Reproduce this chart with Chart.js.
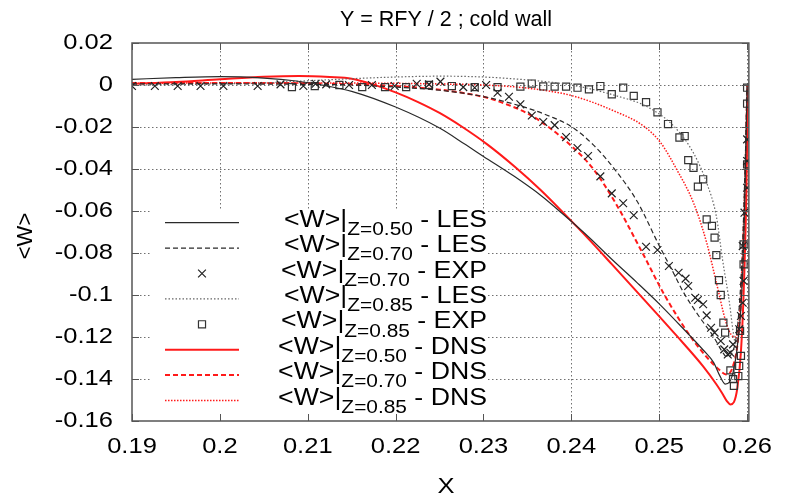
<!DOCTYPE html>
<html>
<head>
<meta charset="utf-8">
<script src="https://cdn.jsdelivr.net/npm/chart.js@4/dist/chart.umd.min.js"></script>
<style>
  html, body { margin: 0; padding: 0; background: #fff; }
  #wrap { width: 785px; height: 496px; }
</style>
</head>
<body>
<div id="wrap"><canvas id="chart" width="785" height="496"></canvas></div>
<script>
// Axis ticks
const xTickValues = [0.19, 0.20, 0.21, 0.22, 0.23, 0.24, 0.25, 0.26];
const xTickLabels = ['0.19', '0.2', '0.21', '0.22', '0.23', '0.24', '0.25', '0.26'];
const yTickValues = [0.02, 0, -0.02, -0.04, -0.06, -0.08, -0.10, -0.12, -0.14, -0.16];
const yTickLabels = ['0.02', '0', '-0.02', '-0.04', '-0.06', '-0.08', '-0.1', '-0.12', '-0.14', '-0.16'];

// Legend pieces: plane Z and source of each series
const zLevels = ['0.50', '0.70', '0.70', '0.85', '0.85', '0.50', '0.70', '0.85'];
const sources = ['LES', 'LES', 'EXP', 'LES', 'EXP', 'DNS', 'DNS', 'DNS'];

// <W> at Z = 0.50, LES
const les050X = [0.190, 0.195, 0.200, 0.205, 0.2087, 0.212, 0.215, 0.220, 0.225, 0.228, 0.230, 0.2335, 0.2365, 0.2391, 0.242, 0.2446, 0.2475, 0.250, 0.2525, 0.2550, 0.2562, 0.2569, 0.2575, 0.2580, 0.2585, 0.2589, 0.2593, 0.2596, 0.2598, 0.2600];
const les050Y = [0.0027, 0.0035, 0.0040, 0.0033, 0.0019, -0.0003, -0.0030, -0.0105, -0.0205, -0.0285, -0.0340, -0.0435, -0.0525, -0.0617, -0.0725, -0.0830, -0.0942, -0.1042, -0.1150, -0.1262, -0.1322, -0.1385, -0.1424, -0.1415, -0.1350, -0.1240, -0.1060, -0.0780, -0.0420, -0.0010];

// <W> at Z = 0.70, LES
const les070X = [0.190, 0.200, 0.210, 0.215, 0.220, 0.225, 0.230, 0.2325, 0.235, 0.2375, 0.240, 0.2425, 0.245, 0.2475, 0.250, 0.2515, 0.2528, 0.2545, 0.2562, 0.2571, 0.2577, 0.2583, 0.2588, 0.2592, 0.2595, 0.2598, 0.2600];
const les070Y = [0.0005, 0.0005, 0.0003, 0.0000, -0.0010, -0.0025, -0.0055, -0.0080, -0.0110, -0.0148, -0.0198, -0.0285, -0.0405, -0.0555, -0.0765, -0.0885, -0.0990, -0.1100, -0.1200, -0.1265, -0.1295, -0.1275, -0.1190, -0.1000, -0.0750, -0.0350, 0.0000];

// <W> at Z = 0.70, measurements
const exp070X = [0.1900, 0.1926, 0.1952, 0.1978, 0.2004, 0.2043, 0.2069, 0.2095, 0.2109, 0.2121, 0.2147, 0.2173, 0.2199, 0.2224, 0.2238, 0.2251, 0.2277, 0.2290, 0.2303, 0.2316, 0.2329, 0.2342, 0.2355, 0.2368, 0.2381, 0.2394, 0.2407, 0.2419, 0.2433, 0.2446, 0.2459, 0.2471, 0.2485, 0.2498, 0.2511, 0.2522, 0.2530, 0.2533, 0.2541, 0.2544, 0.2550, 0.2554, 0.2559, 0.2563, 0.2570, 0.2574, 0.2578, 0.2581, 0.2584, 0.2591, 0.2593, 0.2595, 0.2596, 0.2595, 0.2597, 0.2600, 0.2600, 0.2600];
const exp070Y = [-0.0005, -0.0005, -0.0005, -0.0005, -0.0005, -0.0005, 0.0003, -0.0005, 0.0006, 0.0003, 0.0000, 0.0000, -0.0005, 0.0006, 0.0003, 0.0016, -0.0010, -0.0013, 0.0000, -0.0037, -0.0056, -0.0092, -0.0145, -0.0176, -0.0191, -0.0248, -0.0300, -0.0338, -0.0435, -0.0516, -0.0563, -0.0620, -0.0770, -0.0786, -0.0862, -0.0894, -0.0922, -0.0957, -0.1013, -0.1024, -0.1044, -0.1097, -0.1156, -0.1179, -0.1219, -0.1259, -0.1283, -0.1275, -0.1235, -0.1163, -0.1100, -0.1037, -0.0933, -0.0767, -0.0608, -0.0489, -0.0362, -0.0259];

// <W> at Z = 0.85, LES
const les085X = [0.190, 0.200, 0.205, 0.210, 0.215, 0.220, 0.225, 0.230, 0.235, 0.240, 0.245, 0.2487, 0.2517, 0.2539, 0.2554, 0.2565, 0.2572, 0.2580, 0.2584, 0.2587, 0.2590, 0.2593, 0.2596, 0.2598, 0.2600];
const les085Y = [0.0000, 0.0005, 0.0010, 0.0020, 0.0030, 0.0038, 0.0042, 0.0038, 0.0024, 0.0000, -0.0050, -0.0105, -0.0198, -0.0324, -0.0466, -0.0625, -0.0830, -0.1040, -0.1170, -0.1235, -0.1210, -0.1020, -0.0660, -0.0350, 0.0000];

// <W> at Z = 0.85, measurements
const exp085X = [0.2082, 0.2108, 0.2136, 0.2162, 0.2188, 0.2212, 0.2238, 0.2264, 0.2290, 0.2316, 0.2342, 0.2355, 0.2368, 0.2381, 0.2394, 0.2407, 0.2420, 0.2433, 0.2446, 0.2459, 0.2471, 0.2485, 0.2498, 0.2510, 0.2523, 0.2529, 0.2533, 0.2539, 0.2544, 0.2550, 0.2554, 0.2560, 0.2563, 0.2565, 0.2568, 0.2570, 0.2573, 0.2575, 0.2581, 0.2584, 0.2585, 0.2590, 0.2591, 0.2593, 0.2592, 0.2596, 0.2596, 0.2600, 0.2600, 0.2600];
const exp085Y = [-0.0010, -0.0005, 0.0000, -0.0010, -0.0010, -0.0010, 0.0000, -0.0005, -0.0010, -0.0010, -0.0008, 0.0007, -0.0007, -0.0008, -0.0008, -0.0013, -0.0021, -0.0005, -0.0044, -0.0013, -0.0052, -0.0082, -0.0130, -0.0186, -0.0250, -0.0243, -0.0358, -0.0394, -0.0484, -0.0449, -0.0640, -0.0671, -0.0727, -0.0810, -0.0929, -0.1000, -0.1132, -0.1179, -0.1359, -0.1401, -0.1433, -0.1386, -0.1338, -0.1290, -0.1171, -0.0854, -0.0759, -0.0378, -0.0089, -0.0013];

// <W> at Z = 0.50, DNS
const dns050X = [0.190, 0.195, 0.200, 0.205, 0.209, 0.2125, 0.215, 0.2175, 0.220, 0.2225, 0.225, 0.2276, 0.2305, 0.2335, 0.2365, 0.2391, 0.242, 0.2446, 0.2483, 0.252, 0.255, 0.2565, 0.2572, 0.2577, 0.2581, 0.2585, 0.2589, 0.2593, 0.2596, 0.2599, 0.2601];
const dns050Y = [0.0005, 0.0014, 0.0027, 0.0039, 0.0043, 0.0038, 0.0030, 0.0002, -0.0035, -0.0080, -0.0133, -0.0200, -0.0285, -0.0387, -0.0500, -0.0609, -0.0735, -0.0853, -0.1023, -0.1195, -0.1340, -0.1425, -0.1470, -0.1505, -0.1521, -0.1510, -0.1440, -0.1270, -0.1000, -0.0550, 0.0000];

// <W> at Z = 0.70, DNS
const dns070X = [0.190, 0.200, 0.210, 0.215, 0.220, 0.225, 0.228, 0.2305, 0.2325, 0.235, 0.2374, 0.240, 0.2425, 0.245, 0.2481, 0.2506, 0.2536, 0.2555, 0.2568, 0.2576, 0.2583, 0.2590, 0.2594, 0.2597, 0.2599, 0.2600];
const dns070Y = [0.0010, 0.0010, 0.0008, 0.0003, -0.0005, -0.0022, -0.0040, -0.0062, -0.0090, -0.0135, -0.0200, -0.0290, -0.0400, -0.0560, -0.0800, -0.1000, -0.1200, -0.1300, -0.1355, -0.1378, -0.1350, -0.1200, -0.0950, -0.0600, -0.0300, 0.0000];

// <W> at Z = 0.85, DNS
const dns085X = [0.190, 0.200, 0.210, 0.220, 0.225, 0.230, 0.235, 0.240, 0.2446, 0.2483, 0.2502, 0.252, 0.2539, 0.2554, 0.2565, 0.2576, 0.2582, 0.2587, 0.2591, 0.2594, 0.2597, 0.2599, 0.2600];
const dns085Y = [0.0008, 0.0010, 0.0010, 0.0008, 0.0005, 0.0000, -0.0015, -0.0050, -0.0119, -0.0198, -0.0277, -0.0403, -0.0561, -0.0751, -0.0940, -0.1130, -0.1190, -0.1200, -0.1120, -0.0880, -0.0520, -0.0220, 0.0000];

const FONT = "'Liberation Sans', Arial, Helvetica, sans-serif";
Chart.defaults.font.family = FONT;
Chart.defaults.color = '#000';

// Text on this canvas is drawn with a wide glyph aspect (horizontal scale)
const TEXT_SX = 1.16;
const canvas = document.getElementById('chart');
const c2d = canvas.getContext('2d');
const rawFill = c2d.fillText.bind(c2d);
const rawMeasure = c2d.measureText.bind(c2d);
let wideText = true;
c2d.fillText = function (t, x, y) {
  if (!wideText) { rawFill(t, x, y); return; }
  this.save();
  this.translate(x, y);
  this.scale(TEXT_SX, 1);
  rawFill(t, 0, 0);
  this.restore();
};
c2d.measureText = function (t) {
  const m = rawMeasure(t);
  if (!wideText) return m;
  return {
    width: m.width * TEXT_SX,
    actualBoundingBoxAscent: m.actualBoundingBoxAscent,
    actualBoundingBoxDescent: m.actualBoundingBoxDescent,
    actualBoundingBoxLeft: m.actualBoundingBoxLeft * TEXT_SX,
    actualBoundingBoxRight: m.actualBoundingBoxRight * TEXT_SX
  };
};

function pts(xs, ys) { return xs.map((x, i) => ({ x: x, y: ys[i] })); }

function lineSet(label, xs, ys, color, width, dash) {
  return {
    label: label, data: pts(xs, ys), showLine: true,
    borderColor: color, backgroundColor: color, borderWidth: width, borderDash: dash,
    pointRadius: 0, cubicInterpolationMode: 'monotone'
  };
}
function markSet(label, xs, ys, style, color, radius) {
  return {
    label: label, data: pts(xs, ys), showLine: false,
    pointStyle: style, pointRadius: radius, pointBorderWidth: 1.2,
    borderColor: color, pointBorderColor: color, backgroundColor: 'rgba(0,0,0,0)', pointBackgroundColor: 'rgba(0,0,0,0)'
  };
}
function seriesLabel(i) { return '<W>|Z=' + zLevels[i] + ' - ' + sources[i]; }

const RED = '#ff1a1a';
const datasets = [
  lineSet(seriesLabel(0), les050X, les050Y, '#2a2a2a', 1.2, []),
  lineSet(seriesLabel(1), les070X, les070Y, '#2a2a2a', 1.2, [5, 3]),
  markSet(seriesLabel(2), exp070X, exp070Y, 'crossRot', '#222', 5.5),
  lineSet(seriesLabel(3), les085X, les085Y, '#666', 1.2, [1.5, 2]),
  markSet(seriesLabel(4), exp085X, exp085Y, 'rect', '#333', 5),
  lineSet(seriesLabel(5), dns050X, dns050Y, RED, 2, []),
  lineSet(seriesLabel(6), dns070X, dns070Y, RED, 2, [5, 3]),
  lineSet(seriesLabel(7), dns085X, dns085Y, RED, 1.5, [1.5, 1.5])
];

// Grid, frame, inner ticks, legend and titles drawn around the datasets
const decorations = {
  id: 'decorations',
  beforeDatasetsDraw(chart) {
    const { ctx, chartArea: a, scales: { x, y } } = chart;
    ctx.save();
    ctx.strokeStyle = '#707070';
    ctx.lineWidth = 1;
    ctx.setLineDash([1.5, 2.5]);
    xTickValues.slice(1).forEach(v => {
      const px = Math.round(x.getPixelForValue(v)) + 0.5;
      ctx.beginPath(); ctx.moveTo(px, a.top); ctx.lineTo(px, a.bottom); ctx.stroke();
    });
    yTickValues.slice(1, -1).forEach(v => {
      const py = Math.round(y.getPixelForValue(v)) + 0.5;
      ctx.beginPath(); ctx.moveTo(a.left, py); ctx.lineTo(a.right, py); ctx.stroke();
    });
    ctx.setLineDash([]);
    // legend panel
    ctx.fillStyle = '#fff';
    ctx.fillRect(150, 210, 337, 203);
    ctx.restore();
  },
  afterDatasetsDraw(chart) {
    const { ctx, chartArea: a, scales: { x, y } } = chart;
    ctx.save();
    // frame
    ctx.strokeStyle = '#555';
    ctx.lineWidth = 1.5;
    ctx.strokeRect(a.left, a.top, a.right - a.left, a.bottom - a.top);
    // inner tick marks on all four sides
    ctx.lineWidth = 1;
    ctx.beginPath();
    xTickValues.forEach(v => {
      const px = Math.round(x.getPixelForValue(v)) + 0.5;
      ctx.moveTo(px, a.bottom); ctx.lineTo(px, a.bottom - 7);
      ctx.moveTo(px, a.top); ctx.lineTo(px, a.top + 7);
    });
    yTickValues.forEach(v => {
      const py = Math.round(y.getPixelForValue(v)) + 0.5;
      ctx.moveTo(a.left, py); ctx.lineTo(a.left + 7, py);
      ctx.moveTo(a.right, py); ctx.lineTo(a.right - 7, py);
    });
    ctx.stroke();

    // legend
    const rowY0 = 222.7, rowStep = 25.4, textRight = 487;
    chart.data.datasets.forEach((ds, i) => {
      const ry = rowY0 + i * rowStep;
      ctx.strokeStyle = ds.borderColor;
      if (ds.showLine) {
        ctx.lineWidth = ds.borderWidth;
        ctx.setLineDash(ds.borderDash || []);
        ctx.beginPath(); ctx.moveTo(165, ry); ctx.lineTo(239, ry); ctx.stroke();
        ctx.setLineDash([]);
      } else {
        ctx.lineWidth = ds.pointBorderWidth;
        const r = ds.pointRadius, cx = 202;
        ctx.beginPath();
        if (ds.pointStyle === 'crossRot') {
          const d = r * Math.SQRT1_2;
          ctx.moveTo(cx - d, ry - d); ctx.lineTo(cx + d, ry + d);
          ctx.moveTo(cx - d, ry + d); ctx.lineTo(cx + d, ry - d);
        } else {
          const h = r * Math.SQRT1_2;
          ctx.rect(cx - h, ry - h, 2 * h, 2 * h);
        }
        ctx.stroke();
      }
      const parts = [
        { t: '<W>|', size: 23, dy: 4 },
        { t: 'Z=' + zLevels[i], size: 18, dy: 12.3 },
        { t: ' - ' + sources[i], size: 23, dy: 4 }
      ];
      let total = 0;
      parts.forEach(p => { ctx.font = p.size + 'px ' + FONT; p.w = ctx.measureText(p.t).width; total += p.w; });
      let tx = textRight - total;
      ctx.fillStyle = '#000';
      ctx.textAlign = 'left';
      ctx.textBaseline = 'alphabetic';
      parts.forEach(p => { ctx.font = p.size + 'px ' + FONT; ctx.fillText(p.t, tx, ry + p.dy); tx += p.w; });
    });

    // titles
    ctx.fillStyle = '#000';
    ctx.textAlign = 'center';
    ctx.textBaseline = 'alphabetic';
    wideText = false;
    ctx.font = '21.5px ' + FONT;
    ctx.fillText('Y = RFY / 2 ; cold wall', 446, 26);
    ctx.font = '22px ' + FONT;
    ctx.translate(32, 236);
    ctx.rotate(-Math.PI / 2);
    ctx.fillText('<W>', 0, 0);
    ctx.setTransform(1, 0, 0, 1, 0, 0);
    wideText = true;
    ctx.font = '22px ' + FONT;
    ctx.fillText('X', 446, 493);
    ctx.restore();
  }
};

new Chart(canvas, {
  type: 'scatter',
  data: { datasets: datasets },
  options: {
    responsive: false,
    animation: false,
    devicePixelRatio: 1,
    events: [],
    layout: { padding: { left: 0, right: 25, top: 43, bottom: 0 } },
    plugins: { legend: { display: false }, tooltip: { enabled: false }, title: { display: false } },
    scales: {
      x: {
        type: 'linear', min: 0.19, max: 0.2602,
        afterBuildTicks: s => { s.ticks = xTickValues.map(v => ({ value: v })); },
        afterFit: s => { s.height = 75; },
        ticks: { callback: (v, i) => xTickLabels[i], font: { size: 22 }, color: '#000', padding: 13, maxRotation: 0, autoSkip: false },
        grid: { display: false, drawTicks: false },
        border: { display: false }
      },
      y: {
        type: 'linear', min: -0.16, max: 0.02,
        afterBuildTicks: s => { s.ticks = yTickValues.map(v => ({ value: v })); },
        afterFit: s => { s.width = 132; },
        ticks: { callback: (v, i) => yTickLabels[i], font: { size: 22 }, color: '#000', padding: 19, autoSkip: false },
        grid: { display: false, drawTicks: false },
        border: { display: false }
      }
    }
  },
  plugins: [decorations]
});
</script>
</body>
</html>
